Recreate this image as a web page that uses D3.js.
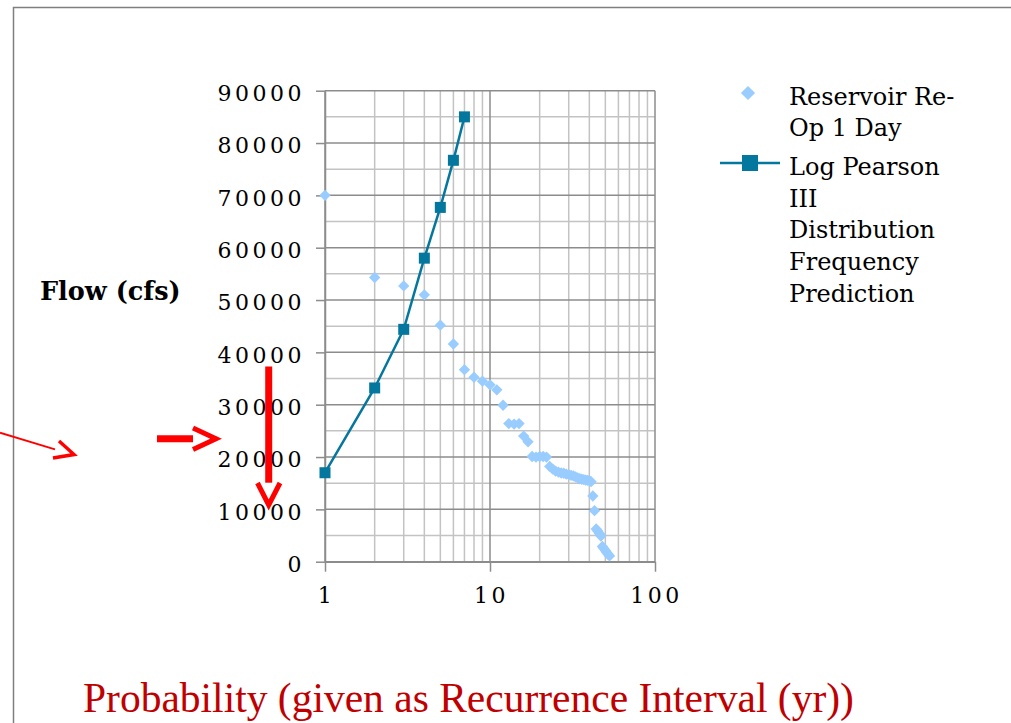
<!DOCTYPE html>
<html>
<head>
<meta charset="utf-8">
<script src="https://cdn.jsdelivr.net/npm/d3@7"></script>
<style>
  body { margin: 0; background: #fff; }
  svg { display: block; }
  .tick-label { font-family: "DejaVu Serif", serif; font-size: 22px; letter-spacing: 3.5px; fill: #000; }
  .legend-text { font-family: "DejaVu Serif", serif; font-size: 24px; fill: #000; }
</style>
</head>
<body>
<svg id="chart"></svg>
<script>
// recurrence interval (rank) and observed flows, reservoir re-op 1 day
const obsYears = [1, 2, 3, 4, 5, 6, 7, 8, 9, 10,
                  11, 12, 13, 14, 15, 16, 17, 18, 19, 20,
                  21, 22, 23, 24, 25, 26, 27, 28, 29, 30,
                  31, 32, 33, 34, 35, 36, 37, 38, 39, 40,
                  41, 42, 43, 44, 45, 46, 47, 48, 49, 50,
                  51, 52, 53];
const obsFlow = [70000, 54300, 52700, 51000, 45200, 41600, 36700, 35250, 34500, 33800,
                 32850, 29900, 26400, 26300, 26400, 24000, 22900, 20100, 20000, 20100,
                 20100, 20000, 18200, 17700, 17300, 17100, 16950, 16900, 16750, 16650,
                 16500, 16400, 16200, 16000, 15850, 15750, 15700, 15600, 15550, 15500,
                 15300, 12550, 9750, 6250, 5850, 5400, 4900, 2900, 2500, 2150,
                 1750, 1400, 1100];

// log pearson III fitted curve
const lp3Years = [1, 2, 3, 4, 5, 6, 7];
const lp3Flow = [17000, 33200, 44400, 58000, 67700, 76700, 85000];

const yTicks = [0, 10000, 20000, 30000, 40000, 50000, 60000, 70000, 80000, 90000];
const xTicks = [1, 10, 100];

const legendObs = ["Reservoir Re-", "Op 1 Day"];
const legendLp3 = ["Log Pearson", "III", "Distribution", "Frequency", "Prediction"];

const yTitle = "Flow (cfs)";
const xTitle = "Probability (given as Recurrence Interval (yr))";

const canvas = {width: 1011, height: 723};
const plot = {left: 325, right: 655, top: 90.7, bottom: 561.7};

const colors = {obs: "#99ccff", lp3: "#04779e", major: "#8c8c8c", minor: "#c3c3c3", red: "#ff0000"};

const svg = d3.select("#chart")
    .attr("width", canvas.width)
    .attr("height", canvas.height);

// slide frame
svg.append("path")
    .attr("d", "M13.5," + canvas.height + " L13.5,7.5 L" + canvas.width + ",7.5")
    .attr("fill", "none")
    .attr("stroke", "#7f7f7f")
    .attr("stroke-width", 1.5);

const x = d3.scaleLog()
    .domain([1, 100])
    .range([plot.left, plot.right]);

const y = d3.scaleLinear()
    .domain([0, 90000])
    .range([plot.bottom, plot.top]);

// gridlines
const grid = svg.append("g").attr("class", "grid");

const minorY = d3.range(5000, 90000, 10000);
grid.selectAll(".hminor")
    .data(minorY)
    .enter().append("line")
    .attr("x1", plot.left).attr("x2", plot.right)
    .attr("y1", d => y(d)).attr("y2", d => y(d))
    .attr("stroke", colors.minor).attr("stroke-width", 1.5);

const minorX = x.ticks().filter(d => xTicks.indexOf(d) < 0);
grid.selectAll(".vminor")
    .data(minorX)
    .enter().append("line")
    .attr("x1", d => x(d)).attr("x2", d => x(d))
    .attr("y1", plot.top).attr("y2", plot.bottom)
    .attr("stroke", colors.minor).attr("stroke-width", 1.5);

grid.selectAll(".hmajor")
    .data(yTicks)
    .enter().append("line")
    .attr("x1", plot.left).attr("x2", plot.right)
    .attr("y1", d => y(d)).attr("y2", d => y(d))
    .attr("stroke", colors.major).attr("stroke-width", 1.5);

grid.selectAll(".vmajor")
    .data(xTicks)
    .enter().append("line")
    .attr("x1", d => x(d)).attr("x2", d => x(d))
    .attr("y1", plot.top).attr("y2", plot.bottom)
    .attr("stroke", colors.major).attr("stroke-width", 1.5);

// axes
const yAxis = d3.axisLeft(y).tickValues(yTicks).tickSize(9).tickSizeOuter(0).tickPadding(11)
    .tickFormat(d3.format("d"));
const yAxisG = svg.append("g")
    .attr("transform", "translate(" + plot.left + ",0)")
    .call(yAxis);
yAxisG.select(".domain").attr("stroke", colors.major).attr("stroke-width", 1.5);
yAxisG.selectAll(".tick line").attr("stroke", colors.major).attr("stroke-width", 1.5);
yAxisG.selectAll(".tick text")
    .attr("class", "tick-label")
    .attr("font-family", null).attr("font-size", null)
    .attr("dy", "0.45em");

const xAxis = d3.axisBottom(x).tickValues(xTicks).tickSize(10).tickSizeOuter(0).tickPadding(16)
    .tickFormat(d3.format("d"));
const xAxisG = svg.append("g")
    .attr("transform", "translate(0," + plot.bottom + ")")
    .call(xAxis);
xAxisG.select(".domain").attr("stroke", colors.major).attr("stroke-width", 1.5);
xAxisG.selectAll(".tick line").attr("stroke", colors.major).attr("stroke-width", 1.5);
xAxisG.selectAll(".tick text")
    .attr("class", "tick-label")
    .attr("font-family", null).attr("font-size", null)
    .attr("dx", "0.04em");

// observed series: diamonds
const diamond = d3.symbol().type(d3.symbolSquare).size(64);
svg.append("g").selectAll("path")
    .data(obsYears.map((d, i) => ({year: d, flow: obsFlow[i]})))
    .enter().append("path")
    .attr("d", diamond)
    .attr("transform", d => "translate(" + x(d.year) + "," + y(d.flow) + ") rotate(45)")
    .attr("fill", colors.obs);

// log pearson line + squares
const lp3Data = lp3Years.map((d, i) => ({year: d, flow: lp3Flow[i]}));
const line = d3.line()
    .x(d => x(d.year))
    .y(d => y(d.flow));

svg.append("path")
    .datum(lp3Data)
    .attr("d", line)
    .attr("fill", "none")
    .attr("stroke", colors.lp3)
    .attr("stroke-width", 2.5);

svg.append("g").selectAll("rect")
    .data(lp3Data)
    .enter().append("rect")
    .attr("x", d => x(d.year) - 5.5)
    .attr("y", d => y(d.flow) - 5.5)
    .attr("width", 11).attr("height", 11)
    .attr("fill", colors.lp3);

// legend
const legend = svg.append("g").attr("transform", "translate(720,0)");
legend.append("path")
    .attr("d", d3.symbol().type(d3.symbolSquare).size(100))
    .attr("transform", "translate(28,93) rotate(45)")
    .attr("fill", colors.obs);
legend.append("text")
    .attr("class", "legend-text")
    .selectAll("tspan")
    .data(legendObs)
    .enter().append("tspan")
    .attr("x", 69)
    .attr("y", (d, i) => 105 + i * 31)
    .text(d => d);

legend.append("line")
    .attr("x1", 0).attr("x2", 60)
    .attr("y1", 163).attr("y2", 163)
    .attr("stroke", colors.lp3).attr("stroke-width", 2.5);
legend.append("rect")
    .attr("x", 22).attr("y", 155)
    .attr("width", 16).attr("height", 16)
    .attr("fill", colors.lp3);
legend.append("text")
    .attr("class", "legend-text")
    .selectAll("tspan")
    .data(legendLp3)
    .enter().append("tspan")
    .attr("x", 69)
    .attr("y", (d, i) => 175 + i * 31.7)
    .text(d => d);

// axis titles
svg.append("text")
    .attr("x", 40).attr("y", 300)
    .style("font-family", "'DejaVu Serif', serif")
    .style("font-weight", "bold")
    .style("font-size", "25.5px")
    .text(yTitle);

svg.append("text")
    .attr("x", 83).attr("y", 712)
    .style("font-family", "'Liberation Serif', serif")
    .style("font-size", "41.5px")
    .style("fill", "#c00000")
    .text(xTitle);

// red hand-drawn arrows
const arrows = svg.append("g")
    .attr("fill", "none")
    .attr("stroke", colors.red)
    .attr("stroke-linecap", "butt")
    .attr("stroke-linejoin", "miter");

arrows.append("path").attr("d", "M0,432.7 L55,449.3").attr("stroke-width", 1.8);
arrows.append("path").attr("d", "M59,441 L74,454.5 L53,458").attr("stroke-width", 3.5);

arrows.append("path").attr("d", "M157,438.7 L193,438.7").attr("stroke-width", 7);
arrows.append("path").attr("d", "M193,428 L216,438.7 L193,449.5").attr("stroke-width", 5);

arrows.append("path").attr("d", "M268.7,366.5 L268.7,482.7").attr("stroke-width", 7);
arrows.append("path").attr("d", "M257.5,483 L268.7,505 L280,483").attr("stroke-width", 5);
</script>
</body>
</html>
